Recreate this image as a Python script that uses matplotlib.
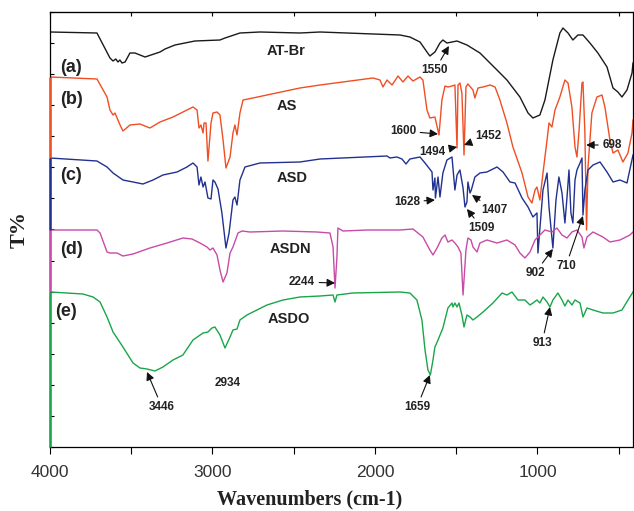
import matplotlib.pyplot as plt

# FTIR spectra, stacked (wavenumber in cm-1, transmittance in arbitrary offset units)
wn_a = [4000, 3711, 3631, 3612, 3595, 3582, 3570, 3557, 3538, 3508, 3477, 3415, 3323, 3292,
        3231, 3108, 2954, 2923, 2831, 2708, 2462, 2338, 1846, 1785, 1723, 1680, 1662, 1631,
        1600, 1582, 1557, 1526, 1495, 1434, 1354, 1249, 1188, 1108, 1058, 1028, 985, 954, 905,
        862, 843, 812, 782, 751, 720, 677, 628, 572, 535, 505, 480, 449, 418, 412]
t_a = [415, 414, 389, 386, 388, 385, 387, 384, 385, 394, 394, 390, 395, 398,
       402, 406, 407, 409, 414, 415, 414, 415, 412, 410, 405, 395, 391, 395,
       404, 407, 404, 405, 406, 402, 394, 377, 367, 350, 334, 329, 332, 347, 387,
       414, 419, 414, 407, 412, 412, 404, 394, 380, 359, 355, 350, 357, 374, 384]

wn_b = [4000, 3711, 3649, 3631, 3612, 3600, 3569, 3551, 3508, 3446, 3385, 3323, 3243, 3157,
        3120, 3095, 3083, 3071, 3058, 3052, 3040, 3028, 3009, 2997, 2972, 2954, 2935, 2917,
        2892, 2874, 2862, 2849, 2831, 2812, 2751, 2665, 2462, 2338, 2012, 1969, 1951, 1926,
        1895, 1858, 1828, 1797, 1766, 1723, 1705, 1680, 1662, 1631, 1606, 1588, 1569, 1551,
        1526, 1508, 1495, 1489, 1477, 1465, 1452, 1440, 1428, 1397, 1385, 1366, 1335, 1292,
        1261, 1231, 1188, 1151, 1095, 1058, 1034, 1015, 1003, 985, 966, 941, 929, 911, 892,
        862, 831, 812, 788, 769, 757, 745, 726, 720, 708, 698, 689, 665, 634, 603, 585, 554,
        535, 505, 474, 443, 418, 412]
t_b = [370, 368, 350, 337, 332, 334, 322, 316, 322, 323, 319, 325, 330, 337,
       340, 337, 319, 322, 314, 324, 324, 286, 324, 334, 335, 332, 307, 279,
       290, 314, 322, 312, 334, 347, 349, 352, 359, 362, 369, 367, 360, 367,
       362, 371, 365, 371, 366, 370, 367, 337, 329, 330, 312, 347, 361, 360,
       361, 362, 299, 362, 364, 354, 292, 360, 363, 357, 349, 359, 360, 362,
       360, 347, 324, 300, 274, 250, 244, 257, 260, 247, 274, 307, 324, 320, 337,
       350, 367, 364, 340, 300, 290, 314, 364, 365, 314, 217, 280, 334, 350, 352, 340, 307,
       294, 297, 285, 294, 314, 327]

wn_c = [4000, 3711, 3649, 3612, 3551, 3489, 3428, 3366, 3305, 3218, 3157, 3120, 3095, 3083,
        3071, 3058, 3046, 3028, 3009, 2997, 2985, 2966, 2942, 2917, 2898, 2874, 2862, 2849,
        2831, 2800, 2708, 2462, 2338, 1926, 1908, 1865, 1834, 1809, 1785, 1723, 1692, 1649,
        1643, 1631, 1628, 1612, 1600, 1582, 1557, 1526, 1508, 1495, 1477, 1458, 1446, 1434,
        1428, 1415, 1407, 1385, 1354, 1311, 1249, 1212, 1169, 1138, 1095, 1058, 1028, 1003,
        997, 966, 941, 929, 905, 886, 868, 849, 831, 818, 806, 794, 782, 769, 757, 738, 726,
        720, 708, 689, 658, 615, 572, 535, 492, 449, 412]
t_c = [289, 286, 280, 274, 267, 265, 263, 267, 272, 275, 280, 284, 280, 262,
       270, 260, 265, 249, 248, 267, 265, 258, 234, 199, 214, 247, 250, 242,
       267, 280, 284, 285, 288, 291, 289, 290, 288, 283, 288, 290, 284, 275,
       257, 269, 249, 270, 250, 274, 287, 290, 257, 272, 277, 259, 240, 245,
       265, 254, 257, 270, 274, 275, 280, 275, 265, 264, 249, 240, 230, 234,
       194, 257, 274, 240, 199, 247, 270, 254, 224, 250, 277, 234, 224, 267, 277, 284, 289,
       232, 257, 277, 282, 285, 275, 265, 267, 264, 292]

wn_d = [4000, 3711, 3692, 3649, 3631, 3588, 3551, 3489, 3385, 3280, 3182, 3126, 3077, 3034,
        3015, 2997, 2972, 2954, 2935, 2911, 2892, 2874, 2843, 2818, 2769, 2566, 2357, 2277,
        2258, 2246, 2234, 2228, 2197, 2049, 1846, 1766, 1705, 1662, 1643, 1618, 1588, 1569,
        1551, 1526, 1508, 1489, 1471, 1458, 1440, 1428, 1409, 1397, 1372, 1354, 1311, 1249,
        1188, 1138, 1108, 1077, 1046, 1015, 985, 954, 911, 880, 849, 818, 788, 757, 726, 714,
        695, 658, 597, 554, 492, 431, 412]
t_d = [217, 217, 214, 195, 194, 194, 191, 193, 199, 204, 209, 208, 204, 200,
       197, 199, 192, 177, 165, 174, 194, 200, 214, 216, 215, 216, 215, 214,
       200, 159, 190, 219, 216, 217, 217, 218, 210, 197, 192, 199, 209, 212,
       205, 207, 204, 200, 194, 152, 197, 209, 207, 200, 195, 204, 207, 204,
       207, 202, 194, 189, 195, 207, 212, 217, 215, 219, 212, 209, 215, 217, 210, 199,
       210, 215, 210, 205, 207, 212, 215]

wn_e = [4000, 3797, 3735, 3692, 3649, 3612, 3551, 3489, 3446, 3403, 3354, 3305, 3243, 3182,
        3120, 3058, 3028, 3003, 2985, 2954, 2923, 2892, 2874, 2849, 2831, 2788, 2665, 2566,
        2462, 2338, 2258, 2246, 2234, 2135, 1846, 1785, 1742, 1711, 1692, 1674, 1659, 1643,
        1631, 1612, 1582, 1551, 1526, 1520, 1508, 1495, 1483, 1465, 1452, 1434, 1415, 1397,
        1372, 1335, 1274, 1218, 1188, 1157, 1120, 1077, 1046, 1028, 1003, 985, 966, 941, 923,
        905, 874, 849, 831, 812, 788, 769, 738, 720, 695, 658, 597, 535, 480, 443, 412]
t_e = [155, 153, 150, 145, 130, 115, 100, 84, 79, 78, 76, 80, 87, 92,
       107, 114, 115, 119, 120, 112, 99, 110, 117, 118, 127, 132, 142, 147,
       150, 151, 152, 145, 152, 154, 155, 154, 147, 127, 97, 77, 72, 87,
       100, 107, 119, 139, 144, 140, 144, 140, 144, 132, 120, 132, 130, 127,
       130, 135, 144, 154, 152, 155, 147, 147, 142, 144, 147, 144, 150, 145, 140,
       147, 154, 147, 141, 147, 142, 147, 144, 130, 139, 137, 134, 134, 137, 147, 155]

curves = [(wn_a, t_a, '#1a1a1a', '(a)', 'AT-Br'),
          (wn_b, t_b, '#f04e23', '(b)', 'AS'),
          (wn_c, t_c, '#22318f', '(c)', 'ASD'),
          (wn_d, t_d, '#c84ba8', '(d)', 'ASDN'),
          (wn_e, t_e, '#19a64a', '(e)', 'ASDO')]

# where the (x) letters and sample names go, (wavenumber, T)
letter_pos = [(3870, 380), (3870, 347), (3870, 271), (3870, 198), (3900, 136)]
name_pos = [(2550, 396), (2540, 341), (2510, 269), (2520, 198), (2530, 128)]

# peak labels: text, text position, arrow tip (None = no arrow)
peaks = [('1550', (1631, 377), (1545, 401)),
         ('1600', (1828, 316), (1612, 313)),
         ('1494', (1649, 295), (1495, 300)),
         ('1452', (1305, 311), (1452, 302)),
         ('698', (541, 302), (700, 302)),
         ('1628', (1803, 245), (1631, 247)),
         ('1407', (1268, 237), (1403, 252)),
         ('1509', (1342, 219), (1434, 238)),
         ('902', (1015, 174), (905, 198)),
         ('710', (825, 181), (720, 231)),
         ('2244', (2449, 165), (2246, 164)),
         ('3446', (3311, 40), (3403, 75)),
         ('2934', (2905, 64), None),
         ('1659', (1741, 40), (1662, 72)),
         ('913', (972, 104), (923, 140))]

fig = plt.figure(figsize=(6.34, 5.11), dpi=100)
ax = fig.add_axes([50 / 634, 64 / 511, 583 / 634, 435 / 511])

ymax = 435
for i, (wn, t, c, letter, name) in enumerate(curves):
    ax.plot(wn, t, color=c, lw=1.0)
    lo = curves[i + 1][1][0] if i + 1 < len(curves) else 0
    if i > 0:
        ax.vlines(4000, lo, t[0], color=c, lw=1.8, clip_on=False, zorder=5)
    ax.text(letter_pos[i][0], letter_pos[i][1], letter, fontsize=13, fontweight='bold',
            family='Liberation Sans', color='#222222', ha='center', va='center')
    ax.text(name_pos[i][0], name_pos[i][1], name, fontsize=10.5, fontweight='bold',
            family='Liberation Sans', color='#222222', ha='center', va='center')

for label, xy_text, tip in peaks:
    if tip is None:
        ax.text(xy_text[0], xy_text[1], label, fontsize=8.5, fontweight='bold',
                family='Liberation Sans', color='#222222', ha='center', va='center')
    else:
        ax.annotate(label, xy=tip, xytext=xy_text, fontsize=8.5, fontweight='bold',
                    family='Liberation Sans', color='#222222', ha='center', va='center',
                    arrowprops=dict(arrowstyle='-|>', color='#111111', lw=0.8,
                                    mutation_scale=12, shrinkA=1, shrinkB=0))

ax.set_xlim(4000, 412)
ax.set_ylim(0, ymax)
ax.set_xticks([4000, 3000, 2000, 1000])
ax.set_xticks([3500, 2500, 1500, 500], minor=True)
ax.set_yticks([ymax * k / 14 for k in range(15)])
ax.set_yticklabels([])
ax.tick_params(axis='x', which='both', direction='out', length=5, width=0.8,
               labelsize=12.5, pad=8, labelcolor='#333333')
ax.tick_params(axis='y', direction='in', length=3, width=0.8)
for lab in ax.get_xticklabels():
    lab.set_family('Liberation Sans')

top = ax.secondary_xaxis('top')
top.set_xticks([4000, 3500, 3000, 2500, 2000, 1500, 1000, 500])
top.tick_params(direction='in', length=3, width=0.8, labeltop=False)

for s in ax.spines.values():
    s.set_linewidth(0.9)

fig.text(310 / 634, 1 - 499 / 511, 'Wavenumbers (cm-1)', family='Liberation Serif',
         fontweight='bold', fontsize=14.5, ha='center', va='center', color='#222222')
fig.text(20 / 634, 1 - 229 / 511, 'T%', family='Liberation Serif', fontweight='bold',
         fontsize=16, rotation=90, ha='center', va='center', color='#222222')

plt.savefig('out.png', dpi=100)
